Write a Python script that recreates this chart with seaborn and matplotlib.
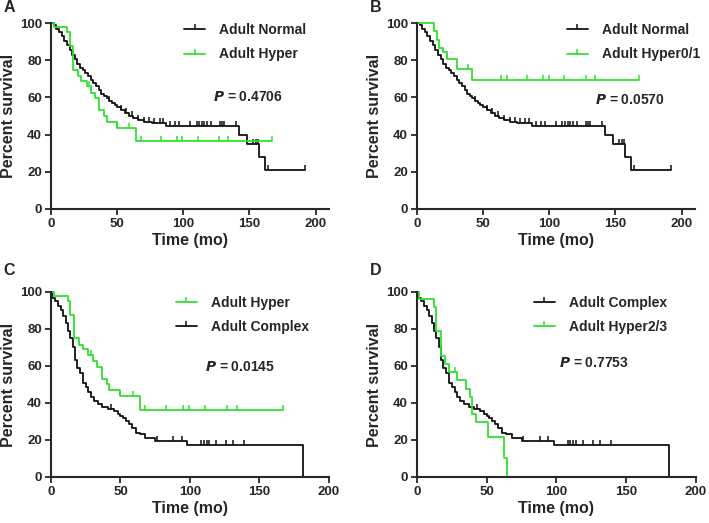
import numpy as np
import pandas as pd
import seaborn as sns
import matplotlib.pyplot as plt
from matplotlib.lines import Line2D

# Kaplan-Meier steps (time in months, percent survival)
normal_t = [0, 2, 4, 6, 8, 10, 12, 14, 16, 18, 20, 22, 24, 26, 28, 30, 32, 34, 36, 38,
            40, 42, 44, 46, 48, 50, 53, 56, 59, 62, 66, 70, 76, 87, 142, 148, 157, 162]
normal_s = [100, 99, 97, 95, 93, 90.5, 88, 85.5, 83, 80.5, 78, 76, 74.5, 73, 71.5, 69.5, 67.5, 66, 64, 62,
            60.5, 59.5, 58, 57, 56, 55, 53, 51.5, 50, 49, 48, 47, 46.5, 44.7, 39.8, 34.9, 27.9, 20.9]
normal_end = 192
normal_cens = [44, 53, 57, 61, 66, 70, 74, 78, 82, 85, 90, 94, 97, 105, 110, 112, 114, 116,
               118, 121, 128, 129, 131, 140, 153, 155, 156.5, 164, 192]

hyper_t = [0, 2, 12, 14, 16.5, 20.5, 23, 27, 30, 33, 36.5, 40, 42, 50, 64]
hyper_s = [100, 97.8, 95, 87.5, 75, 71.5, 69, 66, 62.5, 59.5, 53, 50, 47, 43.8, 36.4]
hyper_end = 167
hyper_cens = [29, 50, 59, 68, 83, 95, 99, 111, 127, 134, 167]

h01_t = [0, 13, 15, 17, 20, 23, 30, 42]
h01_s = [100, 95.5, 91, 86.5, 84.5, 80.5, 75.5, 69.5]
h01_end = 167.5
h01_cens = [23, 38.5, 63.5, 68, 83, 95.5, 100, 111.5, 127.5, 134.5, 167.5]

complex_t = [0, 1, 3, 5, 7, 9, 11, 12.5, 14, 15.5, 17, 19, 21, 23, 25, 27, 29, 31, 34, 37,
             41, 45, 48, 50, 52, 54, 56, 58, 61, 64, 68, 75, 98, 181]
complex_s = [100, 97, 95, 92.5, 90, 87, 83, 79, 75, 70, 63, 59, 56, 51, 48.5, 46, 43, 41, 39.5, 38,
             36.5, 35.5, 34, 33, 32, 30, 28.5, 26.5, 24, 23, 21.3, 19.5, 17.1, 0]
complex_end = 181
complex_cens = [43, 76, 88, 94, 108, 110, 112, 114, 119, 126, 131, 139]

h23_t = [0, 1.5, 12, 14, 17.5, 20.5, 23, 29, 35, 38, 39.5, 42.5, 51, 62.5, 64.5]
h23_s = [100, 96.4, 92, 79, 65.5, 61, 56.5, 52.2, 47.8, 43.5, 34.3, 29.8, 21.5, 10.5, 0]
h23_end = 64.5
h23_cens = [27]

BLACK = '#111111'
GREEN = '#30e030'

sns.set_style('ticks')
plt.rcParams['font.family'] = ['Liberation Sans', 'DejaVu Sans']
plt.rcParams['font.weight'] = 'bold'


def km(ax, t, s, end, cens, color):
    tt = list(t) + [end]
    ss = list(s) + [s[-1]]
    df = pd.DataFrame({'t': tt, 's': ss})
    sns.lineplot(data=df, x='t', y='s', ax=ax, color=color, lw=1.3, drawstyle='steps-post',
                 estimator=None, sort=False, clip_on=False)
    idx = np.searchsorted(t, cens, side='right') - 1
    cy = np.array(s)[idx]
    ax.plot(cens, cy, ls='none', marker=2, ms=3.5, mew=1.1, color=color, clip_on=False)


def style(ax, xmax, letter, pval, leg, legpos, ppos, lety):
    ax.set_xlim(0, xmax)
    ax.set_ylim(0, 100)
    ax.set_xticks([0, 50, 100, 150, 200])
    ax.set_yticks([0, 20, 40, 60, 80, 100])
    sns.despine(ax=ax)
    for sp in ['left', 'bottom']:
        ax.spines[sp].set_linewidth(1.5)
    ax.tick_params(width=1.3, length=4.5, labelsize=9.5, pad=2)
    for lab in ax.get_xticklabels() + ax.get_yticklabels():
        lab.set_fontweight('bold')
    ax.set_xlabel('Time (mo)', fontsize=11.5, fontweight='bold', labelpad=2)
    ax.set_ylabel('Percent survival', fontsize=11.5, fontweight='bold', labelpad=3)
    handles = [Line2D([0], [0], color=c, lw=1.3, marker=2, ms=3.5, mew=1.1) for _, c in leg]
    ax.legend(handles, [n for n, _ in leg], loc='upper left', bbox_to_anchor=legpos,
              frameon=False, handlelength=1.5, handletextpad=1.0,
              labelspacing=0.75, borderpad=0, borderaxespad=0, numpoints=1,
              prop={'weight': 'bold', 'size': 10})
    ax.text(ppos[0], ppos[1], '$\\mathbfit{P}$ = ' + pval, transform=ax.transAxes,
            fontsize=10, fontweight='bold', va='center', ha='left')
    ax.text(-0.17, lety, letter, transform=ax.transAxes, fontsize=11.5, fontweight='bold',
            va='center', ha='left')


fig = plt.figure(figsize=(7.09, 5.23), dpi=100)
axA = fig.add_axes([0.0719, 0.6004, 0.392, 0.3556])
axB = fig.add_axes([0.588, 0.6004, 0.392, 0.3556])
axC = fig.add_axes([0.0719, 0.088, 0.392, 0.3537])
axD = fig.add_axes([0.588, 0.088, 0.3935, 0.3537])

km(axA, normal_t, normal_s, normal_end, normal_cens, BLACK)
km(axA, hyper_t, hyper_s, hyper_end, hyper_cens, GREEN)
style(axA, 210, 'A', '0.4706', [('Adult Normal', BLACK), ('Adult Hyper', GREEN)],
      (0.48, 1.0), (0.583, 0.602), 1.083)

km(axB, normal_t, normal_s, normal_end, normal_cens, BLACK)
km(axB, h01_t, h01_s, h01_end, h01_cens, GREEN)
style(axB, 210, 'B', '0.0570', [('Adult Normal', BLACK), ('Adult Hyper0/1', GREEN)],
      (0.54, 1.0), (0.64, 0.586), 1.083)

km(axC, complex_t, complex_s, complex_end, complex_cens, BLACK)
km(axC, hyper_t, hyper_s, hyper_end, hyper_cens, GREEN)
style(axC, 200, 'C', '0.0145', [('Adult Hyper', GREEN), ('Adult Complex', BLACK)],
      (0.45, 0.98), (0.554, 0.595), 1.115)

km(axD, complex_t, complex_s, complex_end, complex_cens, BLACK)
km(axD, h23_t, h23_s, h23_end, h23_cens, GREEN)
style(axD, 200, 'D', '0.7753', [('Adult Complex', BLACK), ('Adult Hyper2/3', GREEN)],
      (0.42, 0.98), (0.509, 0.616), 1.115)

fig.savefig('out.png', dpi=100)
